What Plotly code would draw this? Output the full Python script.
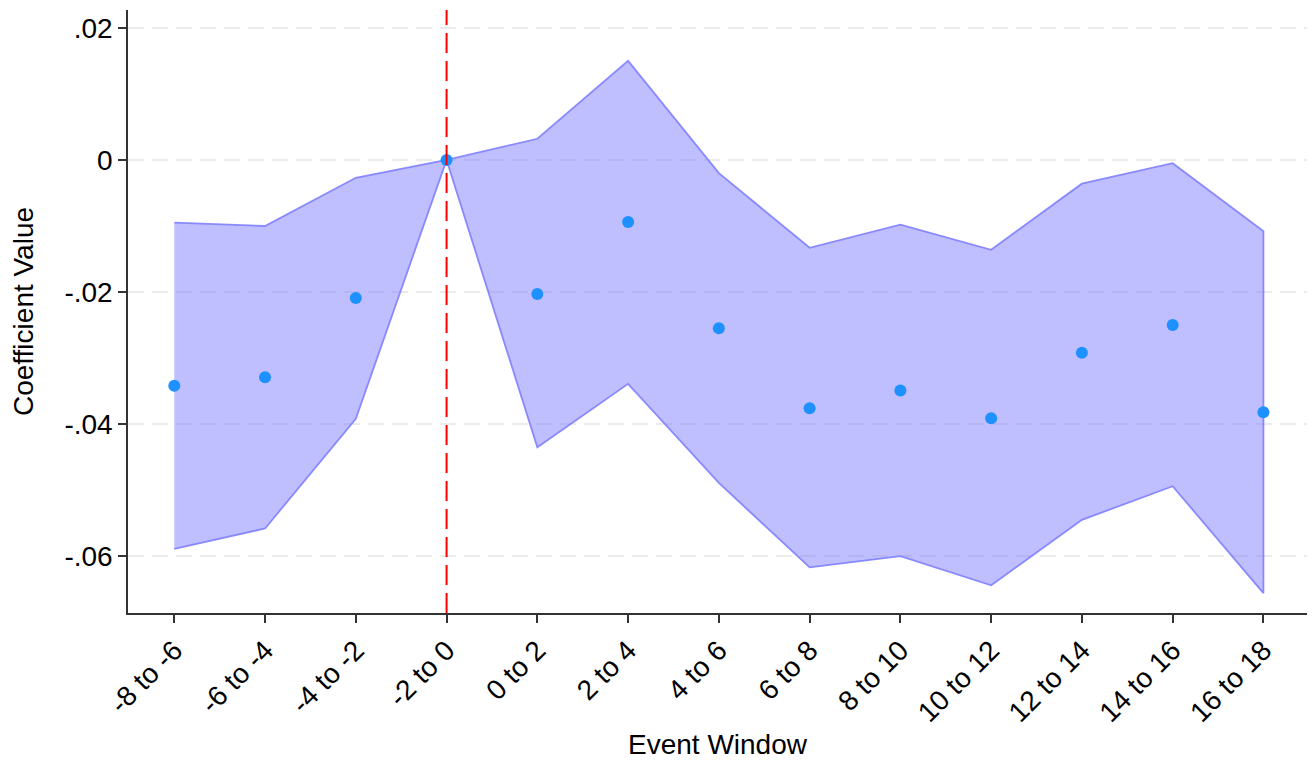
import plotly.graph_objects as go

windows = ["-8 to -6", "-6 to -4", "-4 to -2", "-2 to 0", "0 to 2", "2 to 4", "4 to 6",
           "6 to 8", "8 to 10", "10 to 12", "12 to 14", "14 to 16", "16 to 18"]
coef = [-0.0342, -0.0329, -0.0209, 0.0, -0.0203, -0.0094, -0.0255,
        -0.0376, -0.0349, -0.0391, -0.0292, -0.0250, -0.0382]
ci_upper = [-0.0095, -0.0100, -0.0027, 0.0, 0.0032, 0.0150, -0.0020,
            -0.0133, -0.0098, -0.0136, -0.0036, -0.0005, -0.0108]
ci_lower = [-0.0589, -0.0558, -0.0392, 0.0, -0.0435, -0.0339, -0.0489,
            -0.0617, -0.0600, -0.0644, -0.0545, -0.0494, -0.0656]
y_ticks = [-0.06, -0.04, -0.02, 0, 0.02]
y_tick_labels = ["-.06", "-.04", "-.02", "0", ".02"]

x = list(range(len(windows)))
font = "Liberation Sans, Arial, sans-serif"

fig = go.Figure()
fig.add_trace(go.Scatter(
    x=x + x[::-1], y=ci_upper + ci_lower[::-1],
    fill="toself", fillcolor="rgba(128,128,255,0.5)",
    line=dict(color="rgba(128,128,255,0.9)", width=1.8),
    mode="lines", hoverinfo="skip", showlegend=False))
fig.add_trace(go.Scatter(
    x=x, y=coef, mode="markers",
    marker=dict(color="#1E90FF", size=12), showlegend=False))

fig.add_shape(type="line", x0=3, x1=3, xref="x", y0=0, y1=1, yref="paper",
              line=dict(color="red", width=2, dash="20px,8px"))

fig.add_annotation(text="Event Window", xref="paper", yref="paper", x=0.5, y=0,
                   xanchor="center", yanchor="middle", yshift=-131,
                   showarrow=False, font=dict(size=28))

fig.update_layout(
    width=1300, height=755,
    margin=dict(l=120, r=1, t=2, b=150),
    plot_bgcolor="white", paper_bgcolor="white",
    font=dict(family=font, color="black", size=28),
    showlegend=False,
)
fig.update_xaxes(
    range=[-0.51, 12.48], tickmode="array", tickvals=x, ticktext=windows,
    tickangle=-45, ticks="outside", ticklen=8, tickwidth=1.5, tickcolor="#333",
    showline=True, linecolor="#333", linewidth=1.5, showgrid=False, zeroline=False,
    tickfont=dict(size=28), automargin=False,
)
fig.update_yaxes(
    range=[-0.0686, 0.0227], tickmode="array", tickvals=y_ticks, ticktext=y_tick_labels,
    ticks="outside", ticklen=8, tickwidth=1.5, tickcolor="#333",
    showline=True, linecolor="#333", linewidth=1.5,
    showgrid=True, gridcolor="#ebebeb", griddash="16px,8px", gridwidth=1.5, zeroline=False,
    tickfont=dict(size=28), automargin=True,
    title=dict(text="Coefficient Value", font=dict(size=28), standoff=23),
)

fig.write_html("out.html")
